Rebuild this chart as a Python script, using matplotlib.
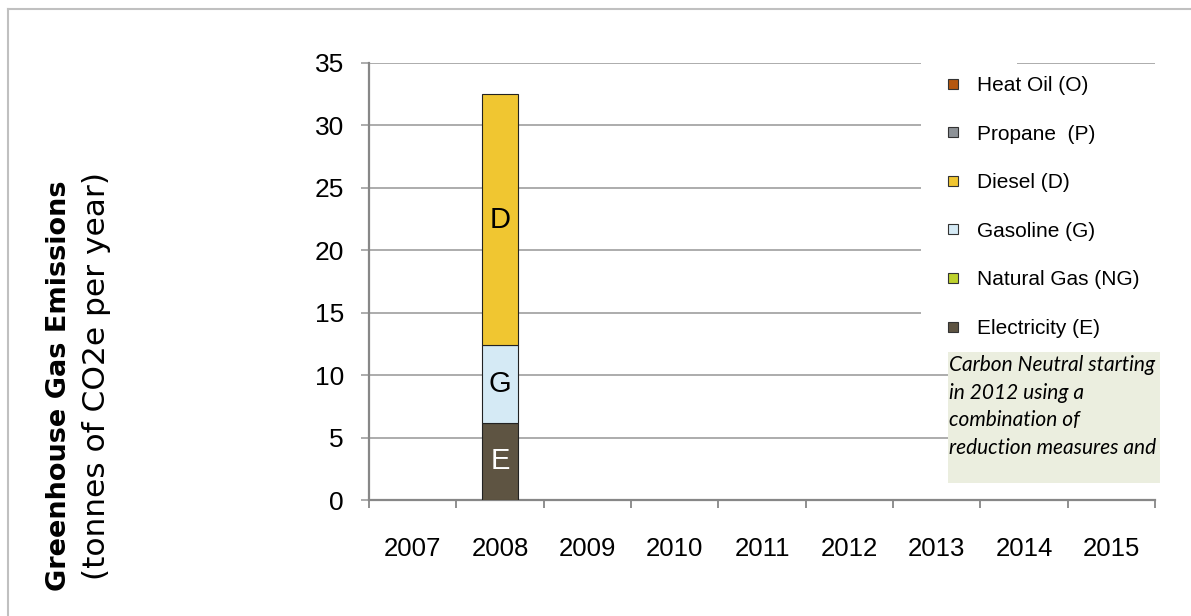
import numpy as np
import matplotlib
matplotlib.use("Agg")
import matplotlib.pyplot as plt
from matplotlib.lines import Line2D
from matplotlib.patches import Rectangle

# ---- data -------------------------------------------------------------
years = ["2007", "2008", "2009", "2010", "2011", "2012", "2013", "2014", "2015"]
electricity = [0, 6.2, 0, 0, 0, 0, 0, 0, 0]
natural_gas = [0, 0, 0, 0, 0, 0, 0, 0, 0]
gasoline = [0, 6.2, 0, 0, 0, 0, 0, 0, 0]
diesel = [0, 20.1, 0, 0, 0, 0, 0, 0, 0]
propane = [0, 0, 0, 0, 0, 0, 0, 0, 0]
heat_oil = [0, 0, 0, 0, 0, 0, 0, 0, 0]

y_ticks = [0, 5, 10, 15, 20, 25, 30, 35]
note_text = "Carbon Neutral starting\nin 2012 using a\ncombination of\nreduction measures and"

# stacking order, bottom to top: (values, legend label, letter, fill, letter colour)
series = [
    (electricity, "Electricity (E)", "E", "#5E5442", "white"),
    (natural_gas, "Natural Gas (NG)", "NG", "#BDD12C", "black"),
    (gasoline, "Gasoline (G)", "G", "#D5EAF5", "black"),
    (diesel, "Diesel (D)", "D", "#F0C631", "black"),
    (propane, "Propane  (P)", "P", "#8D9297", "black"),
    (heat_oil, "Heat Oil (O)", "O", "#B5570F", "black"),
]

W, H = 1191, 616
fig = plt.figure(figsize=(W / 100, H / 100), dpi=100)
fig.patch.set_facecolor("white")


def fx(px):
    return px / W


def fy(py):
    return 1 - py / H


ax = fig.add_axes([fx(369), fy(500), fx(1155 - 369), (500 - 63) / H])

x = np.arange(len(years))
bottom = np.zeros(len(years))
for vals, label, letter, color, tcolor in series:
    vals = np.array(vals, dtype=float)
    edges = ["#222222" if v > 0 else "none" for v in vals]
    bars = ax.bar(x, vals, width=0.41, bottom=bottom, color=color,
                  edgecolor=edges, linewidth=0.8, zorder=3)
    ax.bar_label(bars, labels=[letter if v > 0 else "" for v in vals],
                 label_type="center", fontsize=21, color=tcolor,
                 family="Liberation Sans")
    bottom += vals

ax.set_xlim(-0.5, len(years) - 0.5)
ax.set_ylim(0, 35)
ax.set_yticks(y_ticks)
ax.set_xticks(x)
ax.set_xticklabels(years)
ax.set_xticks(np.arange(len(years) + 1) - 0.5, minor=True)

grid_col = "#A6A6A6"
ax.yaxis.grid(True, color=grid_col, linewidth=1.3)
ax.set_axisbelow(True)

for side in ("top", "right"):
    ax.spines[side].set_visible(False)
for side in ("left", "bottom"):
    ax.spines[side].set_color("#878787")
    ax.spines[side].set_linewidth(1.6)

ax.tick_params(axis="y", direction="out", length=6, width=1.3, color=grid_col,
               pad=12, labelsize=19)
ax.tick_params(axis="x", which="major", length=0, pad=27, labelsize=18.5)
ax.tick_params(axis="x", which="minor", direction="out", length=6, width=1.3,
               color="#878787")
for lab in ax.get_xticklabels() + ax.get_yticklabels():
    lab.set_family("Liberation Sans")

# white background of the legend area, hiding the gridlines behind it
fig.patches.append(Rectangle((fx(921), fy(346)), fx(1170 - 921), (346 - 66) / H,
                             transform=fig.transFigure, facecolor="white",
                             edgecolor="none", zorder=1))
fig.patches.append(Rectangle((fx(921), fy(68)), fx(1017 - 921), 10 / H,
                             transform=fig.transFigure, facecolor="white",
                             edgecolor="none", zorder=1))

# legend, top entry first
handles = [Line2D([], [], marker="s", linestyle="", markersize=7,
                  markerfacecolor=c, markeredgecolor="#333333", markeredgewidth=0.8)
           for _, _, _, c, _ in series[::-1]]
labels = [lab for _, lab, _, _, _ in series[::-1]]
fig.legend(handles, labels, loc="upper left", bbox_to_anchor=(fx(945), fy(76)),
           frameon=False, prop={"family": "Liberation Sans", "size": 15},
           labelspacing=1.42, handlelength=0.8, handletextpad=0.75,
           borderpad=0, borderaxespad=0)

# note box
fig.patches.append(Rectangle((fx(948), fy(483)), fx(1160 - 948), (483 - 352) / H,
                             transform=fig.transFigure, facecolor="#EBEEDF",
                             edgecolor="none", zorder=2))
fig.text(fx(949), fy(355), note_text, ha="left", va="top", fontsize=15,
         style="italic", family="Lato", linespacing=1.47, zorder=3)

# y-axis title in two lines
fig.text(fx(59), fy(386), "Greenhouse Gas Emissions", rotation=90, ha="center",
         va="center", fontsize=19.5, fontweight="bold", family="DejaVu Sans")
fig.text(fx(97), fy(376), "(tonnes of CO2e per year)", rotation=90, ha="center",
         va="center", fontsize=22.5, family="DejaVu Sans")

# outer frame of the chart area
frame_col = "#C0C0C0"
fig.add_artist(Line2D([fx(8), 1], [fy(9), fy(9)], transform=fig.transFigure,
                      color=frame_col, linewidth=1.5))
fig.add_artist(Line2D([fx(8), fx(8)], [fy(9), 0], transform=fig.transFigure,
                      color=frame_col, linewidth=1.5))

fig.savefig("out.png", dpi=100)
